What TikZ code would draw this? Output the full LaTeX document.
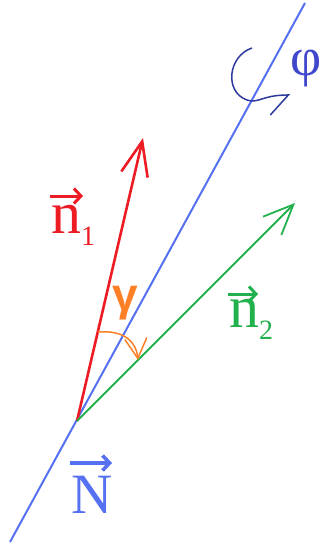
\documentclass[tikz,border=0pt]{standalone}
\usepackage{fontspec}
\setmainfont{Liberation Serif}
\newfontfamily\gsans{Liberation Sans}
\usetikzlibrary{arrows.meta}
\definecolor{pred}{HTML}{ED1C24}
\definecolor{pgreen}{HTML}{22B14C}
\definecolor{porange}{HTML}{FF7F27}
\definecolor{pblue}{HTML}{5570F0}
\definecolor{pindigo}{HTML}{3F48CC}
\definecolor{pdark}{HTML}{2E3A9E}
\newcommand{\subx}[1]{\raisebox{-12pt}{\fontsize{28}{30}\selectfont #1}}
\begin{document}
\begin{tikzpicture}[x=1pt,y=-1pt,
  lab/.style={inner sep=0pt, anchor=base west, font=\fontsize{60}{64}\selectfont},
  labarrow/.style={line width=3pt, -{Straight Barb[length=7pt,width=15pt]}}]
\useasboundingbox (0,0) rectangle (323,548);
% axis
\coordinate (Nbot) at (10,542);
\coordinate (Ntop) at (305,3);
\coordinate (O) at (77,421);
\coordinate (n1tip) at (143,138);
\coordinate (n2tip) at (295,203);
\draw[pblue, line width=2pt] (Nbot) -- (Ntop);
\draw[pred, line width=2.6pt, -{Straight Barb[length=34pt,width=27pt]}] (O) -- (n1tip);
\draw[pgreen, line width=1.8pt, -{Straight Barb[length=30pt,width=26pt]}] (O) -- (n2tip);
% angle gamma
\coordinate (ga) at (98,332);
\coordinate (gb) at (138,360);
\draw[porange, line width=1.5pt, -{Straight Barb[length=20pt,width=22pt]}] (ga) .. controls (122,330) and (136,340) .. (gb);
\node[inner sep=0pt, text=porange, font=\gsans\bfseries\fontsize{46}{50}\selectfont] (gam) at (125,303) {γ};
% rotation phi
\coordinate (r0) at (252,48);
\coordinate (r1) at (290,95);
\draw[pdark, line width=1.5pt, -{Straight Barb[harpoon,swap,length=18pt,width=40pt]}] (r0) .. controls (228,56) and (224,92) .. (247,100) .. controls (258,104) and (262,95) .. (r1);
\node[inner sep=0pt, text=pindigo, font=\fontsize{54}{58}\selectfont] (phi) at (306,69) {φ};
% labels
\node[lab, text=pred] (n1lab) at (51,233) {n\subx{1}};
\draw[labarrow, pred] ([shift={(-1,-37)}]n1lab.base west) -- ++(33,0);
\node[lab, text=pgreen] (n2lab) at (229,327) {n\subx{2}};
\draw[labarrow, pgreen] ([shift={(-1,-33)}]n2lab.base west) -- ++(30,0);
\node[lab, text=pblue, font=\fontsize{57}{60}\selectfont] (Nlab) at (71,513) {N};
\draw[labarrow, pblue, line width=3.6pt] ([shift={(-1,-50)}]Nlab.base west) -- ++(42,0);
\end{tikzpicture}
\end{document}
